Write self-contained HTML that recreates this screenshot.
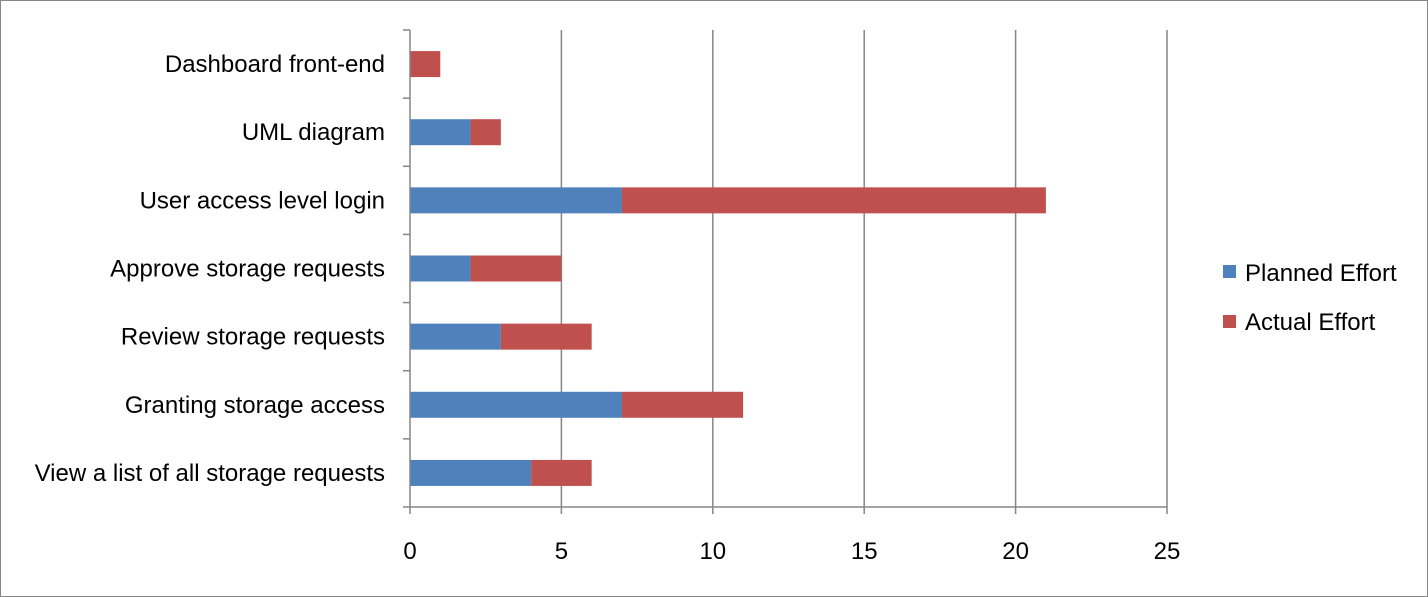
<!DOCTYPE html>
<html><head><meta charset="utf-8"><style>
html,body{margin:0;padding:0;background:#fff;}
svg{display:block;font-family:"Liberation Sans",Calibri,sans-serif;}
</style></head><body>
<svg id="chart" width="1428" height="597">
<rect x="0.5" y="0.5" width="1427" height="596" fill="#fff" stroke="#868686"/>
<g id="grid"></g><g id="bars"></g><g id="axes"></g>
<g>
<rect x="1223" y="265" width="13" height="13" fill="#4F81BD"/>
<text x="1245" y="281" font-size="24" fill="#000">Planned Effort</text>
<rect x="1223" y="315" width="13" height="13" fill="#C0504D"/>
<text x="1245" y="330" font-size="24" fill="#000">Actual Effort</text>
</g>
</svg>
<script>
const categories=["Dashboard front-end","UML diagram","User access level login","Approve storage requests","Review storage requests","Granting storage access","View a list of all storage requests"];
const planned=[0,2,7,2,3,7,4];
const actual=[1,1,14,3,3,4,2];
const xTicks=[0,5,10,15,20,25];
const NS="http://www.w3.org/2000/svg";
const x0=410,x1=1167,yTop=30,yBot=507,xmax=25;
const X=v=>x0+(v/xmax)*(x1-x0);
const band=(yBot-yTop)/categories.length;
const Y=i=>yTop+band*i;
function mk(tag,attrs,parent,txt){const e=document.createElementNS(NS,tag);for(const k in attrs)e.setAttribute(k,attrs[k]);if(txt!==undefined)e.textContent=txt;document.getElementById(parent).appendChild(e);return e;}
xTicks.forEach(t=>{
 if(t>0){const g=mk('line',{x1:X(t),x2:X(t),y1:yTop,y2:yBot,stroke:'#868686','stroke-width':1.5},'grid');
 
 }
 const tk=mk('line',{x1:X(t),x2:X(t),y1:yBot,y2:yBot+7,stroke:'#868686','stroke-width':1.5},'axes');
 
 
 const l=mk('text',{x:X(t),y:559,'font-size':24,'text-anchor':'middle',fill:'#000'},'axes',t);
 
 
});
const ax=mk('line',{x1:x0,x2:x0,y1:yTop,y2:yBot,stroke:'#868686','stroke-width':1.5},'axes');


const bx=mk('line',{x1:x0,x2:x1,y1:yBot,y2:yBot,stroke:'#868686','stroke-width':1.5},'axes');


for(let i=0;i<=categories.length;i++){
 const t=mk('line',{x1:x0-7,x2:x0,y1:Y(i),y2:Y(i),stroke:'#868686','stroke-width':1.5},'axes');
 
 
}
categories.forEach((c,i)=>{
 const cy=Y(i)+band/2,h=26;
 const l=mk('text',{x:385,y:cy+8,'font-size':24,'text-anchor':'end',fill:'#000'},'axes',c);
 
 
 const p=mk('rect',{x:X(0),y:cy-h/2,width:X(planned[i])-X(0),height:h,fill:'#4F81BD'},'bars');
 
 
 const a=mk('rect',{x:X(planned[i]),y:cy-h/2,width:X(planned[i]+actual[i])-X(planned[i]),height:h,fill:'#C0504D'},'bars');
 
 
});
</script>
</body></html>
